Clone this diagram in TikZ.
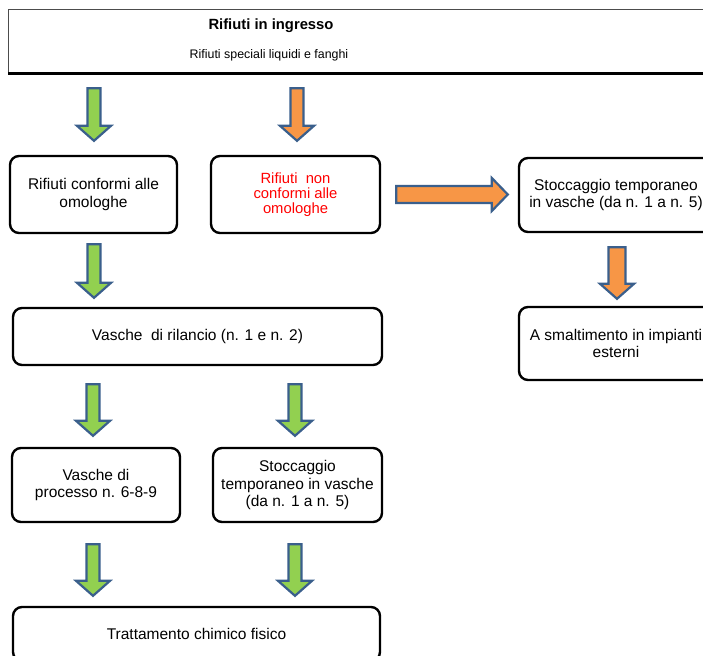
\documentclass[tikz,border=0pt]{standalone}
\usepackage{fontspec}
\setmainfont{Liberation Sans}
\usetikzlibrary{calc}
\definecolor{agreen}{HTML}{92D050}
\definecolor{aorange}{HTML}{F79646}
\definecolor{aoutline}{HTML}{3A5F8C}
\definecolor{ared}{HTML}{FF0000}
% down block arrow: #1 fill, #2 start, #3 tip, #4 half shaft width
\newcommand\dnarrow[4]{%
  \draw[blockarrow, fill=#1] let \p1=#2, \p2=#3 in
    (\x1-#4,\y1) -- (\x1+#4,\y1) -- (\x1+#4,\y2+15pt) -- (\x1+17pt,\y2+15pt)
    -- (\x1,\y2) -- (\x1-17pt,\y2+15pt) -- (\x1-#4,\y2+15pt) -- cycle;}
% right block arrow
\newcommand\rtarrow[4]{%
  \draw[blockarrow, fill=#1] let \p1=#2, \p2=#3 in
    (\x1,\y1+#4) -- (\x2-16pt,\y1+#4) -- (\x2-16pt,\y1+16.5pt) -- (\x2,\y1)
    -- (\x2-16pt,\y1-16.5pt) -- (\x2-16pt,\y1-#4) -- (\x1,\y1-#4) -- cycle;}
\begin{document}
\begin{tikzpicture}[x=1pt,y=-1pt,
  blockarrow/.style={draw=aoutline, line width=2.2pt, line join=miter},
  stepbox/.style={draw=black, line width=2.4pt, rounded corners=9pt, align=center,
    inner sep=0pt, font=\fontsize{15.5}{17.5}\selectfont},
  redtext/.style={text=ared, font=\fontsize{14.8}{15.2}\selectfont}
]
\useasboundingbox (0,0) rectangle (703,655);
\fill[white] (0,0) rectangle (703,655);
\clip (0,0) rectangle (703,655);
% top box
\node[draw=black!70, line width=1.3pt, minimum width=707pt, minimum height=63pt,
  anchor=north west, inner sep=0pt] (top) at (8,9) {};
\draw[line width=3pt] (top.south west) -- (top.south east);
\node[font=\fontsize{14.8}{17}\selectfont\bfseries] (title) at (271,26) {Rifiuti in ingresso};
\node[font=\fontsize{12.4}{14}\selectfont] (sub) at (269,55) {Rifiuti speciali liquidi e fanghi};
% boxes
\node[stepbox, minimum width=167pt, minimum height=77pt] (c1) at (93.5,194.5) {Rifiuti conformi alle\\omologhe};
\node[stepbox, redtext, minimum width=169pt, minimum height=77pt] (c2) at (295.5,194.5) {Rifiuti\ \ non\\conformi alle\\omologhe};
\node[stepbox, minimum width=194pt, minimum height=74pt] (r1) at (616,195) {Stoccaggio temporaneo\\in vasche (da n. 1 a n. 5)};
\node[stepbox, minimum width=194pt, minimum height=73pt] (r2) at (616,343.5) {A smaltimento in impianti\\esterni};
\node[stepbox, minimum width=369pt, minimum height=57pt] (ril) at (197.5,336.5) {Vasche\ \ di rilancio (n. 1 e n. 2)};
\node[stepbox, minimum width=168pt, minimum height=74pt] (p1) at (96,485) {Vasche di\\processo n. 6-8-9};
\node[stepbox, minimum width=169pt, minimum height=74pt] (p2) at (297.5,485) {Stoccaggio\\temporaneo in vasche\\(da n. 1 a n. 5)};
\node[stepbox, minimum width=367pt, minimum height=54pt] (tr) at (196.5,634) {Trattamento chimico fisico};
% arrows
\dnarrow{agreen}{($(c1.north|-top.south)+(0.5,15)$)}{($(c1.north)+(0.5,-14)$)}{6.5pt}
\dnarrow{aorange}{($(c2.north|-top.south)+(1.5,15)$)}{($(c2.north)+(1.5,-14)$)}{6.5pt}
\dnarrow{agreen}{($(c1.south)+(0.5,10)$)}{($(c1.south|-ril.north)+(0.5,-9)$)}{6.5pt}
\dnarrow{agreen}{($(p1.north|-ril.south)+(-3,18)$)}{($(p1.north)+(-3,-11)$)}{6.5pt}
\dnarrow{agreen}{($(p2.north|-ril.south)+(-2.5,18)$)}{($(p2.north)+(-2.5,-11)$)}{6.5pt}
\dnarrow{agreen}{($(p1.south)+(-3,21)$)}{($(p1.south|-tr.north)+(-3,-10)$)}{6.5pt}
\dnarrow{agreen}{($(p2.south)+(-2.5,21)$)}{($(p2.south|-tr.north)+(-2.5,-10)$)}{6.5pt}
\rtarrow{aorange}{($(c2.east)+(15,0)$)}{($(r1.west|-c2.east)+(-10,0)$)}{8.5pt}
\dnarrow{aorange}{($(r1.south)+(1,14)$)}{($(r1.south|-r2.north)+(1,-7)$)}{8.5pt}
\end{tikzpicture}
\end{document}
